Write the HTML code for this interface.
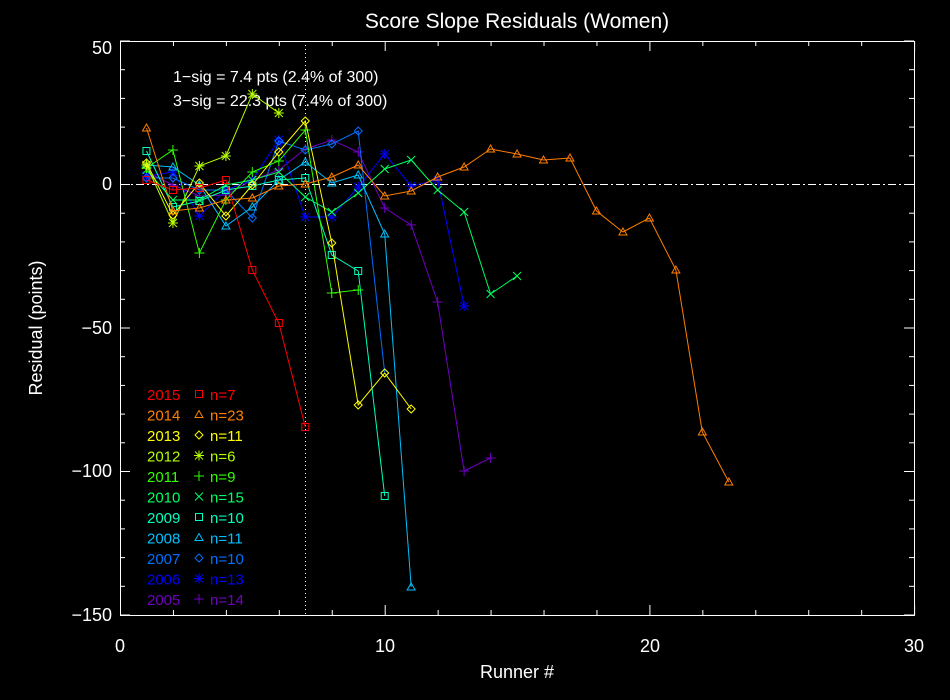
<!DOCTYPE html>
<html><head><meta charset="utf-8"><style>
html,body{margin:0;padding:0;background:#000;}
svg{display:block;font-family:"Liberation Sans",sans-serif;}
</style></head><body>
<svg id="s" width="950" height="700" viewBox="0 0 950 700" xmlns="http://www.w3.org/2000/svg">
<rect width="950" height="700" fill="#000"/>
<text x="517" y="28" fill="#fff" font-size="21" text-anchor="middle">Score Slope Residuals (Women)</text>
<rect x="120.5" y="41.5" width="794" height="574" fill="none" stroke="#fff" stroke-width="1"/>
<g id="ticks" stroke="#fff" stroke-width="1"></g>
<g fill="#fff" font-size="18">
<text x="120" y="652" text-anchor="middle">0</text>
<text x="385" y="652" text-anchor="middle">10</text>
<text x="650" y="652" text-anchor="middle">20</text>
<text x="914" y="652" text-anchor="middle">30</text>
<text x="112" y="54" text-anchor="end">50</text>
<text x="112" y="190" text-anchor="end">0</text>
<text x="112" y="334" text-anchor="end">−50</text>
<text x="112" y="477" text-anchor="end">−100</text>
<text x="112" y="621" text-anchor="end">−150</text>
<text x="517" y="678" text-anchor="middle">Runner #</text>
<text transform="translate(42,328) rotate(-90)" text-anchor="middle">Residual (points)</text>
</g>
<g fill="#fff" font-size="16">
<text x="173" y="82">1−sig = 7.4 pts (2.4% of 300)</text>
<text x="173" y="106">3−sig = 22.3 pts (7.4% of 300)</text>
</g>
<line x1="120" y1="184.5" x2="914" y2="184.5" stroke="#fff" stroke-dasharray="8,3,2,3"/>
<line x1="305.5" y1="41" x2="305.5" y2="615" stroke="#fff" stroke-dasharray="1,3"/>
<g id="data"></g>
<g id="leg" font-size="15"></g>
</svg>
<script>
var ns="http://www.w3.org/2000/svg";
function el(t,a,p){var e=document.createElementNS(ns,t);for(var k in a)e.setAttribute(k,a[k]);p.appendChild(e);return e;}
var tk=document.getElementById('ticks');
for(var i=0;i<=30;i+=2){var x=120.5+i*26.47;var L=(i%10==0)?10:5;el('line',{x1:x,y1:615,x2:x,y2:615-L},tk);el('line',{x1:x,y1:41,x2:x,y2:41+L},tk);}
for(var v=50;v>=-150;v-=10){var y=184.5-v*2.87;var L=(v%50==0)?10:5;el('line',{x1:120,y1:y,x2:120+L,y2:y},tk);el('line',{x1:914,y1:y,x2:914-L,y2:y},tk);}
var S=[
["2015","#ff0000","sq",[180,190,188,180,270,323,427]],
["2014","#ff7f00","tri",[128,211,208,200,198,186,184,177,165,196,191,177,167,149,154,160,158,211,232,218,270,432,482]],
["2013","#ffff00","dia",[163,215,183,216,185,152,121,243,405,373,409]],
["2012","#b4ff00","ast",[165,223,166,156,94,113]],
["2011","#30ff00","plus",[168,150,253,200,172,161,130,293,290]],
["2010","#00ff60","x",[170,200,200,185,180,172,197,212,193,169,160,190,212,294,276]],
["2009","#00ffc0","sq",[151,207,201,190,186,180,178,255,271,496]],
["2008","#00c0ff","tri",[165,167,185,226,207,180,162,183,175,234,587]],
["2007","#0070ff","dia",[178,178,190,190,218,141,150,144,131,373]],
["2006","#0000ff","ast",[176,172,216,190,180,140,217,217,187,154,186,180,306]],
["2005","#7000c0","plus",[172,185,196,195,180,170,149,140,152,208,225,302,471,458]]];
var d=document.getElementById('data');
function mark(t,x,y,c,g){
 if(t=='sq')el('rect',{x:x-3.5,y:y-3.5,width:7,height:7,stroke:c,fill:'none'},g);
 else if(t=='tri')el('polygon',{points:(x-4)+','+(y+3)+' '+x+','+(y-4)+' '+(x+4)+','+(y+3),stroke:c,fill:'none'},g);
 else if(t=='dia')el('polygon',{points:x+','+(y-4)+' '+(x+4)+','+y+' '+x+','+(y+4)+' '+(x-4)+','+y,stroke:c,fill:'none'},g);
 else if(t=='plus'){el('line',{x1:x-5,y1:y,x2:x+5,y2:y,stroke:c},g);el('line',{x1:x,y1:y-5,x2:x,y2:y+5,stroke:c},g);}
 else if(t=='x'){el('line',{x1:x-4,y1:y-4,x2:x+4,y2:y+4,stroke:c},g);el('line',{x1:x-4,y1:y+4,x2:x+4,y2:y-4,stroke:c},g);}
 else {mark('plus',x,y,c,g);mark('x',x,y,c,g);}
}
S.slice().reverse().forEach(function(s){var p=s[3].map(function(y,i){return (120+26.47*(i+1)).toFixed(1)+','+y;}).join(' ');
 el('polyline',{points:p,stroke:s[1],fill:'none','stroke-width':1},d);
 s[3].forEach(function(y,i){mark(s[2],120+26.47*(i+1),y,s[1],d);});});
var lg=document.getElementById('leg');
S.forEach(function(s,i){var y=400+i*20.5;
 var t=el('text',{x:147,y:y,fill:s[1]},lg);t.textContent=s[0];
 mark(s[2],199,y-6,s[1],lg);
 var t2=el('text',{x:210,y:y,fill:s[1]},lg);t2.textContent='n='+s[3].length;});
</script>
</body></html>
